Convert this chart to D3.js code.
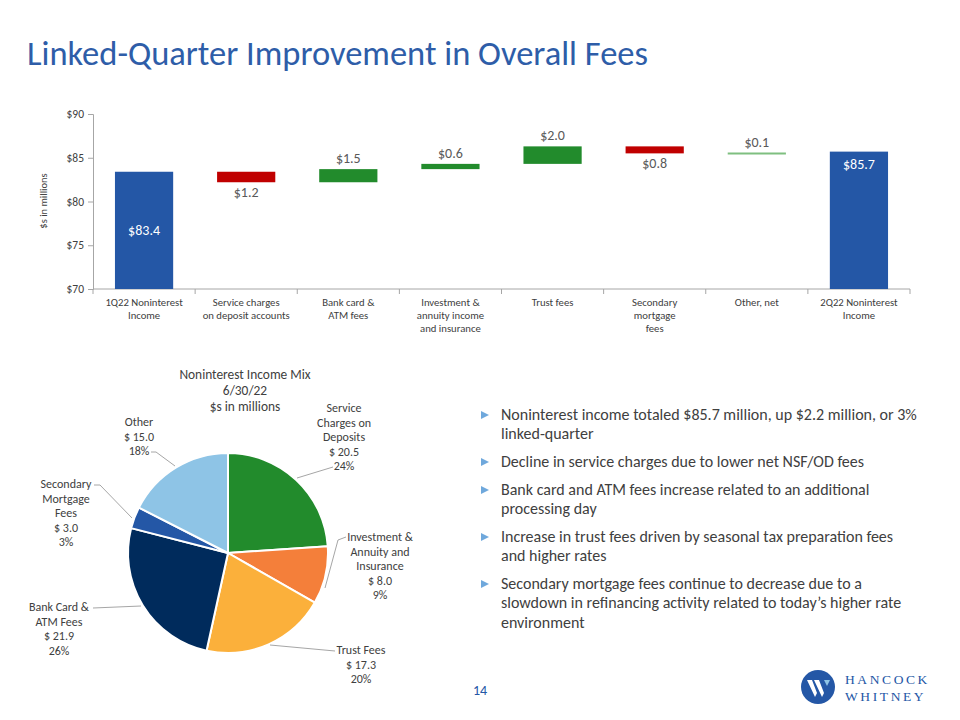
<!DOCTYPE html>
<html><head><meta charset="utf-8">
<script src="https://cdn.jsdelivr.net/npm/d3@7"></script>
<style>
body{margin:0;background:#fff;}
svg{display:block;font-family:Carlito,Lato,"Open Sans",sans-serif;}
</style></head>
<body>
<svg id="c" width="960" height="720"></svg>
<script>
// ---- Data ----
const categories = ["1Q22 Noninterest Income","Service charges on deposit accounts","Bank card & ATM fees","Investment & annuity income and insurance","Trust fees","Secondary mortgage fees","Other, net","2Q22 Noninterest Income"];
const categoryLines = [["1Q22 Noninterest","Income"],["Service charges","on deposit accounts"],["Bank card &","ATM fees"],["Investment &","annuity income","and insurance"],["Trust fees"],["Secondary","mortgage","fees"],["Other, net"],["2Q22 Noninterest","Income"]];
const startValue = 83.4;
const changes = [-1.2, 1.5, 0.6, 2.0, -0.8, 0.1];
const endValue = 85.7;
const yTicks = [70, 75, 80, 85, 90];

const pieLabels = [["Service","Charges on","Deposits"],["Investment &","Annuity and","Insurance"],["Trust Fees"],["Bank Card &","ATM Fees"],["Secondary","Mortgage","Fees"],["Other"]];
const pieValues = [20.5, 8.0, 17.3, 21.9, 3.0, 15.0];
const piePercents = ["24%","9%","20%","26%","3%","18%"];
const pieColors = ["#228B2C","#F47F3A","#FBB03B","#002B5C","#2457A6","#8EC4E6"];

const bullets = [
 ["Noninterest income totaled $85.7 million, up $2.2 million, or 3%","linked-quarter"],
 ["Decline in service charges due to lower net NSF/OD fees"],
 ["Bank card and ATM fees increase related to an additional","processing day"],
 ["Increase in trust fees driven by seasonal tax preparation fees","and higher rates"],
 ["Secondary mortgage fees continue to decrease due to a","slowdown in refinancing activity related to today\u2019s higher rate","environment"]
];

const svg = d3.select("#c");
const BLUE = "#2457A6", TXT = "#404040";

// Title
svg.append("text").attr("x",27).attr("y",65).attr("fill","#2E5DA8")
  .style("font-size","34.5px").text("Linked-Quarter Improvement in Overall Fees");

// ---- Waterfall ----
const x = d3.scaleBand().domain(categories).range([93,910]).paddingInner(0.43).paddingOuter(0.215);
const y = d3.scaleLinear().domain([70,90]).range([289,114]);

const recs = [];
recs.push({cat:categories[0], y0:70, y1:startValue, type:"total", v:startValue});
let run = startValue;
changes.forEach((c,i)=>{
  const a = run, b = run + c;
  recs.push({cat:categories[i+1], y0:Math.min(a,b), y1:Math.max(a,b), type:c<0?"neg":(Math.abs(c)<0.2?"small":"pos"), v:c});
  run = b;
});
recs.push({cat:categories[7], y0:70, y1:endValue, type:"total", v:endValue});

const colorFor = t => t==="total"?BLUE:t==="neg"?"#C00000":t==="pos"?"#228B2C":"#7FBF80";

const yAxis = d3.axisLeft(y).tickValues(yTicks).tickFormat(d=>"$"+d).tickSize(5).tickPadding(4);
const gy = svg.append("g").attr("transform","translate(93,0)").call(yAxis);
gy.selectAll("path,line").attr("stroke","#A6A6A6");
gy.selectAll("text").attr("fill",TXT).style("font-size","11.5px").style("font-family","Carlito,Lato,sans-serif");

const gx = svg.append("g").attr("transform","translate(0,289)");
gx.append("line").attr("x1",93).attr("x2",910).attr("stroke","#A6A6A6");
const step = x.step();
d3.range(categories.length+1).forEach(i=>{
  const xx = x(categories[0]) - (step - x.bandwidth())/2 + i*step;
  gx.append("line").attr("x1",xx).attr("x2",xx).attr("y1",0).attr("y2",5).attr("stroke","#A6A6A6");
});
categoryLines.forEach((lines,i)=>{
  const t = gx.append("text").attr("x",x(categories[i])+x.bandwidth()/2).attr("y",17)
    .attr("text-anchor","middle").attr("fill",TXT).style("font-size","10.7px");
  lines.forEach((l,j)=>t.append("tspan").attr("x",x(categories[i])+x.bandwidth()/2).attr("dy",j?13:0).text(l));
});

svg.append("text").attr("transform","translate(47,201) rotate(-90)").attr("text-anchor","middle")
  .attr("fill",TXT).style("font-size","10.5px").text("$s in millions");

svg.selectAll("rect.wf").data(recs).enter().append("rect").attr("class","wf")
  .attr("x",d=>x(d.cat)).attr("width",x.bandwidth())
  .attr("y",d=>y(d.y1)).attr("height",d=>Math.max(2,y(d.y0)-y(d.y1)))
  .attr("fill",d=>colorFor(d.type));

recs.forEach((d,i)=>{
  const cx = x(d.cat)+x.bandwidth()/2;
  let ly, fill="#595959", txt;
  if(d.type==="total"){
    txt = "$"+d.v.toFixed(1); fill="#fff";
    ly = i===0 ? (y(d.y1)+y(70))/2 + 5 : y(d.y1)+17;
  } else {
    txt = "$"+Math.abs(d.v).toFixed(1);
    ly = d.type==="neg" ? y(d.y0)+15 : y(d.y1)-6;
  }
  svg.append("text").attr("x",cx).attr("y",ly).attr("text-anchor","middle").attr("fill",fill)
    .style("font-size","14px").text(txt);
});

// ---- Pie ----
const cx0 = 228, cy0 = 553, R = 100;
const pie = d3.pie().sort(null).value(d=>d)(pieValues);
const arc = d3.arc().innerRadius(0).outerRadius(R);
const gp = svg.append("g").attr("transform",`translate(${cx0},${cy0})`);
gp.selectAll("path").data(pie).enter().append("path").attr("d",arc)
  .attr("fill",(d,i)=>pieColors[i]).attr("stroke","#fff").attr("stroke-width",2);

const ptitle = svg.append("text").attr("text-anchor","middle").attr("fill",TXT).style("font-size","13.4px");
["Noninterest Income Mix","6/30/22","$s in millions"].forEach((l,j)=>ptitle.append("tspan").attr("x",245).attr("y",379+j*16).text(l));

const labelPos = [[344,412],[380,541],[361,654],[59,611],[66,488],[139,426]];
const leaders = [
  [[333,467],[297,478]],
  [[346,537],[338,540],[325,588]],
  [[335,651],[270,645]],
  [[93,608],[141,606]],
  [[94,485],[100,485],[132,518]],
  [[151,452],[156,452],[175,466]]
];
pieLabels.forEach((lines,i)=>{
  const all = lines.concat(["$ "+pieValues[i].toFixed(1), piePercents[i]]);
  const t = svg.append("text").attr("text-anchor","middle").attr("fill",TXT).style("font-size","12px");
  all.forEach((l,j)=>t.append("tspan").attr("x",labelPos[i][0]).attr("y",labelPos[i][1]+j*14.5).text(l));
});
leaders.forEach(pts=>{
  svg.append("path").attr("d",d3.line()(pts)).attr("fill","none").attr("stroke","#A6A6A6").attr("stroke-width",1);
});

// ---- Bullets ----
const lineH = 19.3;
let by = 420;
bullets.forEach(b=>{
  svg.append("path").attr("d",`M481,${by-9}L489,${by-5}L481,${by-1}Z`).attr("fill","#6FA8DC");
  b.forEach((l,j)=>{
    svg.append("text").attr("x",501).attr("y",by+j*lineH).attr("fill",TXT).style("font-size","16px").text(l);
  });
  by += b.length*lineH + 8.5;
});

svg.append("text").attr("x",480).attr("y",695).attr("text-anchor","middle").attr("fill",BLUE)
  .style("font-size","14px").text("14");

// logo
svg.append("circle").attr("cx",818).attr("cy",687).attr("r",17).attr("fill",BLUE);
svg.append("path").attr("d","M807,680 L812,680 L817,693 L815,697 Z M814,680 L819,680 L824,693 L822,697 Z")
  .attr("fill","#fff");
svg.append("path").attr("d","M824,680 L830,680 L827,686 Z").attr("fill","#8EC4E6");
const lg = svg.append("text").attr("fill",BLUE).style("font-family","'Liberation Serif','DejaVu Serif',serif").style("font-size","13.5px").style("letter-spacing","2.6px");
lg.append("tspan").attr("x",845).attr("y",684).text("HANCOCK");
lg.append("tspan").attr("x",845).attr("y",701).text("WHITNEY");
</script>
</body></html>
